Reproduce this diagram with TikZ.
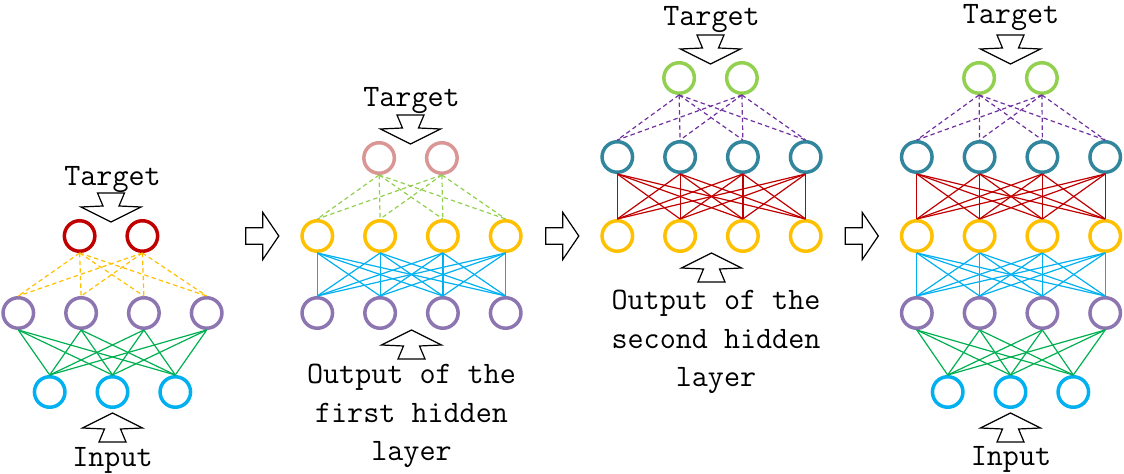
\documentclass[tikz,border=0pt]{standalone}
\usepackage{fontspec}
\usetikzlibrary{calc}
\definecolor{tred}{HTML}{C00000}
\definecolor{tpink}{HTML}{D99694}
\definecolor{tgreen}{HTML}{92D050}
\definecolor{hpurple}{HTML}{8C75B0}
\definecolor{hyellow}{HTML}{FFC000}
\definecolor{hteal}{HTML}{31859C}
\definecolor{icyan}{HTML}{00B0F0}
\definecolor{lgreen}{HTML}{00B050}
\definecolor{lviolet}{HTML}{7030A0}
\tikzset{
  neuron/.style={circle,line width=1.75pt,minimum size=15.25pt,inner sep=0pt},
  wire/.style={line width=.6pt},
  dwire/.style={line width=.6pt,dash pattern=on 2.2pt off 1.6pt},
  caption/.style={font=\ttfamily\fontsize{15.6}{19.4}\selectfont,align=center,inner sep=0pt},
  blockarrow/.style={draw=black,line width=.6pt,fill=white,line join=miter},
  downarrow/.pic={\draw[blockarrow] (-13.5,0) -- (13.5,0) -- (8,13) -- (30,14) -- (0,29) -- (-30,14) -- (-8,13) -- cycle;},
  nextarrow/.pic={\draw[blockarrow] (-16.5,-8.3) -- (0.5,-8.3) -- (0.5,-23.5) -- (16.5,0) -- (0.5,23.5) -- (0.5,8.3) -- (-16.5,8.3) -- cycle;}
}

\begin{document}
\begin{tikzpicture}[x=0.5pt,y=-0.5pt]
  \useasboundingbox (0,0) rectangle (1124,474);

  % step 1: input -> first hidden layer -> target
  \foreach \i/\dx in {1/-31.4,2/31.4}
    \node[neuron,draw=tred] (p1-t-\i) at (111+\dx,236) {};
  \foreach \i/\dx in {1/-94.2,2/-31.4,3/31.4,4/94.2}
    \node[neuron,draw=hpurple] (p1-h1-\i) at (112.5+\dx,313) {};
  \foreach \i/\dx in {1/-62.8,2/0,3/62.8}
    \node[neuron,draw=icyan] (p1-in-\i) at (112.5+\dx,392) {};
  \foreach \i in {1,2} \foreach \j in {1,...,4}
    \draw[dwire,hyellow] (p1-t-\i.south) -- (p1-h1-\j.north);
  \foreach \i in {1,...,4} \foreach \j in {1,2,3}
    \draw[wire,lgreen] (p1-h1-\i.south) -- (p1-in-\j.north);
  \node[caption,anchor=base] (p1-target) at (112.5,186) {Target};
  \pic at ($(p1-t-1)!.5!(p1-t-2)+(0,-43)$) {downarrow};
  \pic[rotate=180] at ($(p1-in-2)+(0,50)$) {downarrow};
  \node[caption,anchor=base] (p1-input) at (112.5,467) {Input};

  % step 2
  \foreach \i/\dx in {1/-31.4,2/31.4}
    \node[neuron,draw=tpink] (p2-t-\i) at (410.5+\dx,158) {};
  \foreach \i/\dx in {1/-94.2,2/-31.4,3/31.4,4/94.2} {
    \node[neuron,draw=hyellow] (p2-h2-\i) at (411.5+\dx,236) {};
    \node[neuron,draw=hpurple] (p2-h1-\i) at (411.5+\dx,313) {};
  }
  \foreach \i in {1,2} \foreach \j in {1,...,4}
    \draw[dwire,tgreen] (p2-t-\i.south) -- (p2-h2-\j.north);
  \foreach \i in {1,...,4} \foreach \j in {1,...,4}
    \draw[wire,icyan] (p2-h2-\i.south) -- (p2-h1-\j.north);
  \node[caption,anchor=base] (p2-target) at (411.5,106.5) {Target};
  \pic at ($(p2-t-1)!.5!(p2-t-2)+(0,-43)$) {downarrow};
  \pic[rotate=180] at ($(p2-h1-2)!.5!(p2-h1-3)+(0,46)$) {downarrow};
  \node[caption] (p2-output) at (411.5,416) {Output of the\\first hidden\\layer};
  \pic at ($(p2-h2-1)+(-55,0)$) {nextarrow};

  % step 3
  \foreach \i/\dx in {1/-31.4,2/31.4}
    \node[neuron,draw=tgreen] (p3-t-\i) at (710.5+\dx,78) {};
  \foreach \i/\dx in {1/-94.2,2/-31.4,3/31.4,4/94.2} {
    \node[neuron,draw=hteal] (p3-h3-\i) at (711.5+\dx,157) {};
    \node[neuron,draw=hyellow] (p3-h2-\i) at (711.5+\dx,236) {};
  }
  \foreach \i in {1,2} \foreach \j in {1,...,4}
    \draw[dwire,lviolet] (p3-t-\i.south) -- (p3-h3-\j.north);
  \foreach \i in {1,...,4} \foreach \j in {1,...,4}
    \draw[wire,tred] (p3-h3-\i.south) -- (p3-h2-\j.north);
  \node[caption,anchor=base] (p3-target) at (711.5,26) {Target};
  \pic at ($(p3-t-1)!.5!(p3-t-2)+(0,-43)$) {downarrow};
  \pic[rotate=180] at ($(p3-h2-2)!.5!(p3-h2-3)+(0,46)$) {downarrow};
  \node[caption] (p3-output) at (716,342) {Output of the\\second hidden\\layer};
  \pic at ($(p3-h2-1)+(-55,0)$) {nextarrow};

  % step 4: whole network
  \foreach \i/\dx in {1/-31.4,2/31.4}
    \node[neuron,draw=tgreen] (p4-t-\i) at (1010.5+\dx,78) {};
  \foreach \i/\dx in {1/-94.2,2/-31.4,3/31.4,4/94.2} {
    \node[neuron,draw=hteal] (p4-h3-\i) at (1011+\dx,157) {};
    \node[neuron,draw=hyellow] (p4-h2-\i) at (1011+\dx,236) {};
    \node[neuron,draw=hpurple] (p4-h1-\i) at (1011+\dx,313) {};
  }
  \foreach \i/\dx in {1/-62.8,2/0,3/62.8}
    \node[neuron,draw=icyan] (p4-in-\i) at (1010.5+\dx,392) {};
  \foreach \i in {1,2} \foreach \j in {1,...,4}
    \draw[dwire,lviolet] (p4-t-\i.south) -- (p4-h3-\j.north);
  \foreach \i in {1,...,4} \foreach \j in {1,...,4} {
    \draw[wire,tred] (p4-h3-\i.south) -- (p4-h2-\j.north);
    \draw[wire,icyan] (p4-h2-\i.south) -- (p4-h1-\j.north);
  }
  \foreach \i in {1,...,4} \foreach \j in {1,2,3}
    \draw[wire,lgreen] (p4-h1-\i.south) -- (p4-in-\j.north);
  \node[caption,anchor=base] (p4-target) at (1011,23.5) {Target};
  \pic at ($(p4-t-1)!.5!(p4-t-2)+(0,-43)$) {downarrow};
  \pic[rotate=180] at ($(p4-in-2)+(0,50)$) {downarrow};
  \node[caption,anchor=base] (p4-input) at (1011,466) {Input};
  \pic at ($(p4-h2-1)+(-55,0)$) {nextarrow};
\end{tikzpicture}
\end{document}
